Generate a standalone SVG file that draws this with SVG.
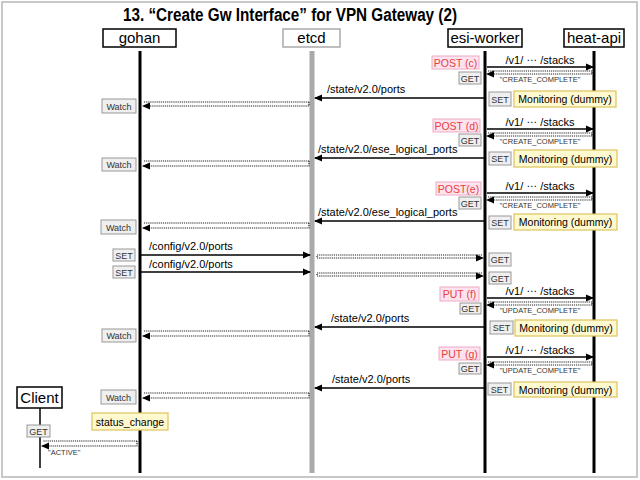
<svg xmlns="http://www.w3.org/2000/svg" width="640" height="480" viewBox="0 0 640 480">
<defs>
<marker id="ah" viewBox="0 0 8 8" refX="7" refY="4" markerWidth="8" markerHeight="8" markerUnits="userSpaceOnUse" orient="auto">
<path d="M0,0.5 L8,4 L0,7.5 Z" fill="#000"/>
</marker>
<style>
.t{font-family:"Liberation Sans",Arial,sans-serif;fill:#000}
.hdr{fill:#fff;stroke:#000;stroke-width:1.5}
.life{stroke:#000;stroke-width:3}
.msg{stroke:#000;stroke-width:1.3;fill:none;marker-end:url(#ah)}
.ret{stroke:#222;stroke-width:1.2;fill:none;stroke-dasharray:1.2 0.9;marker-end:url(#ah)}
.lbl{font-size:11px}
.gb{fill:#efefef;stroke:#999;stroke-width:1}
.gt{font-size:9px;fill:#333;text-anchor:middle}
.pb{fill:#fde3ef;stroke:#eeaac6;stroke-width:1}
.pt{font-size:10.5px;fill:#e8403a;text-anchor:middle}
.yb{fill:#fff9cf;stroke:#dcc35c;stroke-width:1.2}
.yt{font-size:10.5px;text-anchor:middle}
.st{font-size:7.5px;fill:#333;text-anchor:middle}
.sl{font-size:7.5px;fill:#333;text-anchor:start}
</style>
</defs>
<rect x="2" y="2" width="635" height="475" fill="#fff" stroke="#c8c8c8" stroke-width="2"/>
<text class="t" x="290" y="21" font-size="17.5" font-weight="bold" text-anchor="middle" textLength="334" lengthAdjust="spacingAndGlyphs">13. “Create Gw Interface” for VPN Gateway (2)</text>

<g id="gohan">
<line class="life" x1="140" y1="51" x2="140" y2="473"/>
<rect class="hdr" x="103" y="29" width="73" height="18"/>
<text class="t" x="139.5" y="43" font-size="15" text-anchor="middle">gohan</text>
</g>
<g id="etcd">
<line x1="312" y1="51" x2="312" y2="473" stroke="#aaa" stroke-width="5"/>
<rect x="283" y="29" width="57" height="18" fill="#fff" stroke="#aaa" stroke-width="1.5"/>
<text class="t" x="311.5" y="43" font-size="15" text-anchor="middle">etcd</text>
</g>
<g id="esi-worker">
<line class="life" x1="485" y1="51" x2="485" y2="473"/>
<rect class="hdr" x="448" y="29" width="74" height="18"/>
<text class="t" x="485" y="43" font-size="15" text-anchor="middle">esi-worker</text>
</g>
<g id="heat-api">
<line class="life" x1="594" y1="51" x2="594" y2="473"/>
<rect class="hdr" x="564" y="29" width="60" height="18"/>
<text class="t" x="594" y="43" font-size="15" text-anchor="middle">heat-api</text>
</g>
<g id="client">
<line x1="40" y1="408" x2="40" y2="468" stroke="#000" stroke-width="1.5"/>
<rect class="hdr" x="17" y="387" width="45" height="21"/>
<text class="t" x="39.5" y="403" font-size="15" text-anchor="middle">Client</text>
</g>

<g id="connectors">
<path class="msg" d="M487,67 H593"/>
<path class="ret" d="M488,71 H592 V74 H487"/>
<path class="msg" d="M484,98 H315"/>
<path class="ret" d="M309,102 H143 M309,102 V106 H143"/>
<path class="msg" d="M487,129 H593"/>
<path class="ret" d="M488,133 H592 V136 H487"/>
<path class="msg" d="M484,158 H315"/>
<path class="ret" d="M309,161 H143 M309,161 V166 H143"/>
<path class="msg" d="M487,193 H593"/>
<path class="ret" d="M488,197 H592 V200 H487"/>
<path class="msg" d="M484,221 H315"/>
<path class="ret" d="M309,223 H143 M309,223 V228 H143"/>
<path class="msg" d="M141,255 H310"/>
<path class="ret" d="M482,255 H317 V258 H483"/>
<path class="msg" d="M141,272 H310"/>
<path class="ret" d="M482,273 H317 V276 H483"/>
<path class="msg" d="M487,298 H593"/>
<path class="ret" d="M488,302 H592 V305 H487"/>
<path class="msg" d="M484,327 H315"/>
<path class="ret" d="M309,331 H143 M309,331 V336 H143"/>
<path class="msg" d="M487,357 H593"/>
<path class="ret" d="M488,362 H592 V365 H487"/>
<path class="msg" d="M484,388 H315"/>
<path class="ret" d="M309,393 H143 M309,393 V398 H143"/>
<path class="ret" d="M137,441 H43 M137,441 V446 H42"/>
</g>

<g id="labels">
<text class="t lbl" x="540" y="64" text-anchor="middle">/v1/ <tspan dy="-3">…</tspan><tspan dy="3"> /stacks</tspan></text>
<text class="t st" x="540" y="82">"CREATE_COMPLETE"</text>
<text class="t lbl" x="327" y="93">/state/v2.0/ports</text>
<text class="t lbl" x="540" y="126" text-anchor="middle">/v1/ <tspan dy="-3">…</tspan><tspan dy="3"> /stacks</tspan></text>
<text class="t st" x="540" y="144">"CREATE_COMPLETE"</text>
<text class="t lbl" x="318" y="153">/state/v2.0/ese_logical_ports</text>
<text class="t lbl" x="540" y="190" text-anchor="middle">/v1/ <tspan dy="-3">…</tspan><tspan dy="3"> /stacks</tspan></text>
<text class="t st" x="540" y="208">"CREATE_COMPLETE"</text>
<text class="t lbl" x="318" y="216">/state/v2.0/ese_logical_ports</text>
<text class="t lbl" x="149" y="250">/config/v2.0/ports</text>
<text class="t lbl" x="149" y="268">/config/v2.0/ports</text>
<text class="t lbl" x="540" y="295" text-anchor="middle">/v1/ <tspan dy="-3">…</tspan><tspan dy="3"> /stacks</tspan></text>
<text class="t st" x="540" y="313">"UPDATE_COMPLETE"</text>
<text class="t lbl" x="331" y="322">/state/v2.0/ports</text>
<text class="t lbl" x="540" y="354" text-anchor="middle">/v1/ <tspan dy="-3">…</tspan><tspan dy="3"> /stacks</tspan></text>
<text class="t st" x="540" y="373">"UPDATE_COMPLETE"</text>
<text class="t lbl" x="332" y="383">/state/v2.0/ports</text>
<text class="t sl" x="48" y="455">"ACTIVE"</text>
</g>

<g id="tags">
<rect class="pb" x="432" y="56" width="47" height="13"/><text class="t pt" x="455.5" y="66.5">POST (c)</text>
<rect class="pb" x="433" y="119" width="47" height="13"/><text class="t pt" x="456.5" y="129.5">POST (d)</text>
<rect class="pb" x="436" y="182" width="45" height="13"/><text class="t pt" x="458.5" y="192.5">POST(e)</text>
<rect class="pb" x="440" y="287" width="39" height="14"/><text class="t pt" x="459.5" y="298">PUT (f)</text>
<rect class="pb" x="439" y="347" width="41" height="13"/><text class="t pt" x="459.5" y="357.5">PUT (g)</text>
<rect class="gb" x="459" y="72" width="22" height="12"/><text class="t gt" x="470" y="81.5">GET</text>
<rect class="gb" x="459" y="134" width="22" height="12"/><text class="t gt" x="470" y="143.5">GET</text>
<rect class="gb" x="459" y="197" width="22" height="12"/><text class="t gt" x="470" y="206.5">GET</text>
<rect class="gb" x="460" y="303" width="21" height="11"/><text class="t gt" x="470.5" y="312">GET</text>
<rect class="gb" x="459" y="363" width="22" height="11"/><text class="t gt" x="470" y="372">GET</text>
<rect class="gb" x="489" y="92" width="22" height="14"/><text class="t gt" x="500" y="102.5">SET</text>
<rect class="yb" x="514" y="91" width="102" height="16"/><text class="t yt" x="565" y="103">Monitoring (dummy)</text>
<rect class="gb" x="489" y="152" width="22" height="13"/><text class="t gt" x="500" y="162">SET</text>
<rect class="yb" x="514" y="150" width="103" height="17"/><text class="t yt" x="565.5" y="162.5">Monitoring (dummy)</text>
<rect class="gb" x="489" y="216" width="22" height="13"/><text class="t gt" x="500" y="226">SET</text>
<rect class="yb" x="514" y="214" width="103" height="16"/><text class="t yt" x="565.5" y="226">Monitoring (dummy)</text>
<rect class="gb" x="490" y="321" width="23" height="13"/><text class="t gt" x="501.5" y="331">SET</text>
<rect class="yb" x="515" y="320" width="102" height="16"/><text class="t yt" x="566" y="332">Monitoring (dummy)</text>
<rect class="gb" x="488" y="383" width="23" height="12"/><text class="t gt" x="499.5" y="392.5">SET</text>
<rect class="yb" x="514" y="382" width="103" height="15"/><text class="t yt" x="565.5" y="393.5">Monitoring (dummy)</text>
<rect class="gb" x="489" y="253" width="22" height="13"/><text class="t gt" x="500" y="263">GET</text>
<rect class="gb" x="489" y="272" width="22" height="12"/><text class="t gt" x="500" y="281.5">GET</text>
<rect class="gb" x="102" y="99" width="34" height="14"/><text class="t gt" x="119" y="109.5">Watch</text>
<rect class="gb" x="102" y="158" width="34" height="13"/><text class="t gt" x="119" y="168">Watch</text>
<rect class="gb" x="101" y="220" width="35" height="14"/><text class="t gt" x="118.5" y="230.5">Watch</text>
<rect class="gb" x="102" y="329" width="34" height="13"/><text class="t gt" x="119" y="339">Watch</text>
<rect class="gb" x="101" y="390" width="35" height="14"/><text class="t gt" x="118.5" y="400.5">Watch</text>
<rect class="gb" x="113" y="249" width="22" height="12"/><text class="t gt" x="124" y="258.5">SET</text>
<rect class="gb" x="113" y="266" width="22" height="12"/><text class="t gt" x="124" y="275.5">SET</text>
<rect class="yb" x="92" y="413" width="76" height="17"/><text class="t yt" x="130" y="425.5">status_change</text>
<rect class="gb" x="27" y="425" width="23" height="12"/><text class="t gt" x="38.5" y="434.5">GET</text>
</g>
</svg>
